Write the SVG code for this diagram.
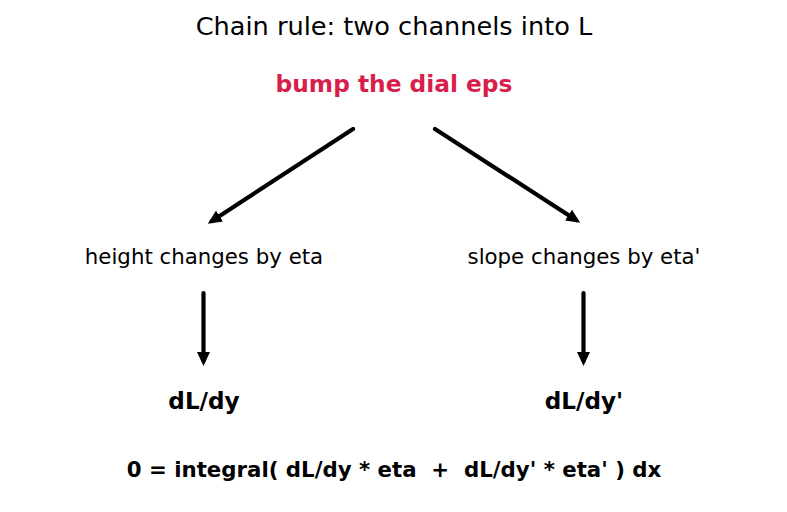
<svg xmlns="http://www.w3.org/2000/svg" width="787" height="512" viewBox="0 0 787 512">
<style>
text{font-family:"DejaVu Sans",sans-serif;text-anchor:middle;white-space:pre}
.t{font-size:25.6px;fill:#000}
.top{font-size:23.3px;font-weight:bold;fill:#d81e4b}
.mid{font-size:21.3px;fill:#000}
.d{font-size:23.1px;font-weight:bold;fill:#000}
.f{font-size:21.3px;font-weight:bold;fill:#000}
.c{stroke:#000;stroke-width:4.2;fill:none;stroke-linecap:round;marker-end:url(#ah)}
</style>
<defs>
<marker id="ah" viewBox="0 0 14 13" refX="9" refY="6.5" markerWidth="14" markerHeight="13" orient="auto" markerUnits="userSpaceOnUse">
<path d="M0,0 L14,6.5 L0,13 Z" fill="#000"/>
</marker>
</defs>
<rect width="787" height="512" fill="#fff"/>
<text class="t" x="394" y="35">Chain rule: two channels into L</text>
<g id="eps"><text class="top" x="394" y="92">bump the dial eps</text></g>
<g id="height"><text class="mid" x="204" y="264">height changes by eta</text></g>
<g id="slope"><text class="mid" x="584" y="264">slope changes by eta'</text></g>
<g id="dldy"><text class="d" x="204" y="409">dL/dy</text></g>
<g id="dldyp"><text class="d" x="584" y="409">dL/dy'</text></g>
<g id="formula"><text class="f" x="394" y="477">0 = integral( dL/dy * eta  +  dL/dy' * eta' ) dx</text></g>
<g id="connectors">
<line class="c" x1="353" y1="129" x2="212" y2="221"/>
<line class="c" x1="435" y1="129" x2="576" y2="220"/>
<line class="c" x1="203.5" y1="293" x2="203.5" y2="361"/>
<line class="c" x1="583.5" y1="293" x2="583.5" y2="361"/>
</g>
</svg>
